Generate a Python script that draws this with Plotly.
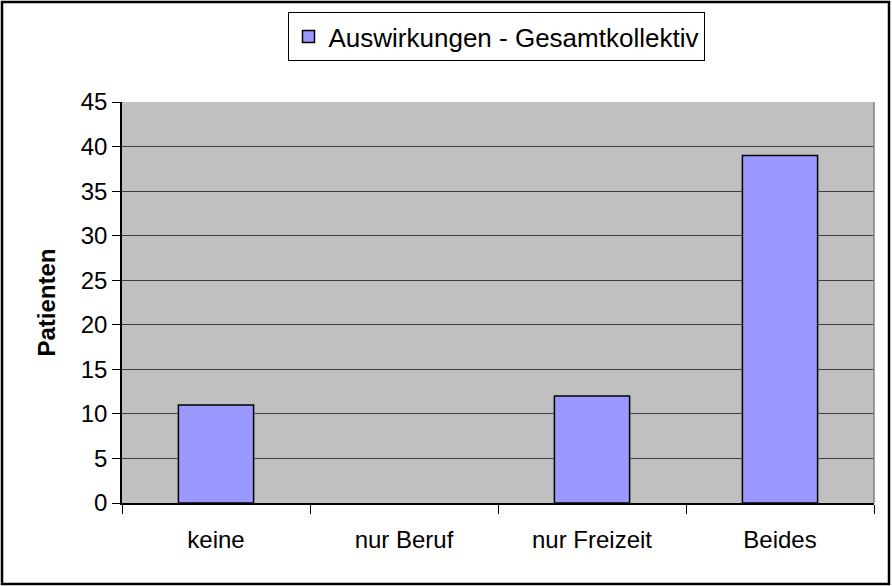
import plotly.graph_objects as go

# data
categories = ["keine", "nur Beruf", "nur Freizeit", "Beides"]
patienten = [11, 0, 12, 39]
series_name = "Auswirkungen - Gesamtkollektiv"
y_ticks = [0, 5, 10, 15, 20, 25, 30, 35, 40, 45]

W, H = 892, 586
L, R, T, B = 122, 18, 102, 83
pw, ph = W - L - R, H - T - B


def px_x(p):
    return (p - L) / pw


def px_y(p):
    return (H - B - p) / ph


# a zero-height bar gets no outline, like the original
outline = [1.5 if v > 0 else 0 for v in patienten]

fig = go.Figure()
fig.add_trace(go.Bar(
    x=categories,
    y=patienten,
    name=series_name,
    marker=dict(color="#9999FF", line=dict(color="black", width=outline)),
    showlegend=True,
))

font = "Liberation Sans, Arial, sans-serif"

fig.update_layout(
    width=W, height=H,
    margin=dict(l=L, r=R, t=T, b=B),
    paper_bgcolor="white",
    plot_bgcolor="#C0C0C0",
    font=dict(family=font, size=24, color="black"),
    bargap=0.6,
    showlegend=True,
    legend=dict(
        orientation="h",
        x=px_x(496), xanchor="center",
        y=px_y(12), yanchor="top",
        bordercolor="black", borderwidth=1,
        bgcolor="white",
        font=dict(size=26),
        itemwidth=30,
    ),
    xaxis=dict(
        type="category",
        showline=True, linecolor="black", linewidth=1.5,
        ticks="outside", tickson="boundaries", ticklen=9, tickcolor="black",
        showgrid=False,
        ticklabelstandoff=14,
    ),
    yaxis=dict(
        range=[0, 45],
        tickvals=y_ticks,
        showline=True, linecolor="black", linewidth=1.5,
        ticks="outside", ticklen=8, tickcolor="black",
        showgrid=True, gridcolor="#404040", gridwidth=1,
        zeroline=False,
        title=dict(text="<b>Patienten</b>", font=dict(size=24), standoff=18),
    ),
    shapes=[
        # grey right border of the plot area
        dict(type="line", xref="paper", yref="paper", x0=1, x1=1, y0=0, y1=1,
             line=dict(color="#808080", width=1.5)),
        # outer chart frame
        dict(type="rect", xref="paper", yref="paper",
             x0=px_x(2), x1=px_x(889), y0=px_y(584), y1=px_y(2),
             line=dict(color="black", width=2.5)),
    ],
)

fig.write_html(
    "out.html",
    config={"displayModeBar": False},
    post_script="document.body.style.margin='0';",
)
